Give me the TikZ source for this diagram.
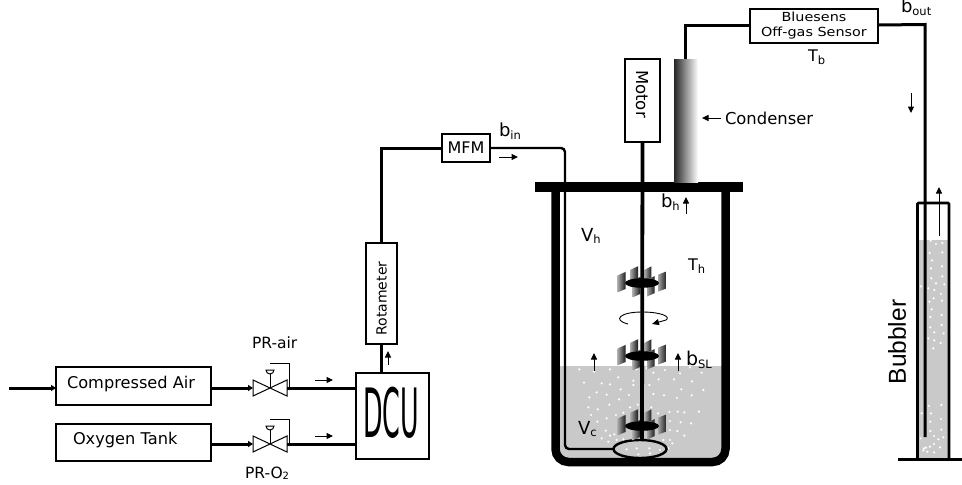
\documentclass[tikz,border=0pt]{standalone}
\usepackage{fontspec}
\setmainfont{DejaVu Sans}
\newfontfamily\arialish{Liberation Sans}
\usetikzlibrary{arrows.meta,shapes.geometric}
\newcommand{\fs}[1]{\fontsize{#1}{#1}\selectfont}
\newcommand{\subt}[1]{\raisebox{-2.5pt}{\fs{11.5}#1}}
\tikzset{
  pipe/.style={line width=3pt},
  thinpipe/.style={line width=2.4pt},
  box/.style={draw=black,line width=2.8pt,fill=white,inner sep=0pt,outer sep=0pt,align=center},
  thinbox/.style={box,line width=1.9pt},
  lbl/.style={inner sep=0pt,outer sep=0pt,anchor=west},
  flow/.style={line width=1pt,-{Triangle[length=6.5pt,width=6pt]}},
  inarrow/.style={pipe,-{Triangle[length=5pt,width=6pt]}},
  dot/.style={fill=white},
}
\newcommand{\prvalve}[3]{%
  \coordinate (#1) at (#2,#3);
  \begin{scope}[shift={(#2,#3)}]
    \coordinate (#1w) at (-17,0);
    \coordinate (#1e) at (17,0);
    \draw[line width=1pt,fill=white] (-17,-8) -- (17,8) -- (17,-8) -- (-17,8) -- cycle;
    \draw[line width=1pt] (0,0) -- (0,-18);
    \draw[line width=1pt,fill=white] (-4,-18) arc[start angle=180,end angle=0,radius=4] -- cycle;
    \draw[line width=1pt] (0,-25) -- (19,-25) -- (19,0);
  \end{scope}}
\newcommand{\blade}[3]{% x, y, width rel. centre
  \shade[left color=black!35,right color=black!90] (#1,#2) -- ({#1+#3},{#2-3.4}) -- ({#1+#3},{#2+13.6}) -- (#1,{#2+17}) -- cycle;}
\newcommand{\impeller}[1]{%
  \begin{scope}[shift={(642,#1)}]
    \blade{-11.7}{-13.3}{7.7}
    \blade{2.7}{-13.3}{6.7}
    \blade{-9.3}{-2.7}{7.7}
    \blade{5}{-3.5}{7.7}
    \blade{-24.3}{-7.7}{8}
    \blade{16}{-8.3}{8.7}
  \end{scope}
  \fill[black] (642,#1) ellipse[x radius=17,y radius=4.8];}
\begin{document}
\begin{tikzpicture}[x=1pt,y=-1pt]
\useasboundingbox (0,0) rectangle (962,485);
\fill[white] (0,0) rectangle (962,485);

% left boxes
\node[box,minimum width=155pt,minimum height=38pt] (air) at (133.5,386) {};
\node[box,minimum width=155pt,minimum height=37pt] (oxy) at (133.5,442.5) {};
\node[lbl,font=\fs{16.2}] at (67,384) {Compressed Air};
\node[lbl,font=\fs{16.2}] at (73,440) {Oxygen Tank};
\coordinate (feed) at (9,388);

% valves
\prvalve{va}{270}{388}
\prvalve{vo}{270}{444}

% DCU, rotameter, MFM
\node[box,minimum width=73pt,minimum height=86pt] (dcu) at (392.5,416) {};
\node[inner sep=0pt] at (391,413) {\scalebox{1.27}[3.4]{\fs{20}DCU}};
\node[thinbox,minimum width=31pt,minimum height=101pt] (rot) at (381.5,293.5) {};
\node[rotate=90,inner sep=0pt,font=\fs{14}] at (381.5,298.5) {Rotameter};
\node[thinbox,minimum width=48pt,minimum height=28pt,font=\fs{16}] (mfm) at (466,148) {MFM};

\draw[inarrow] (feed) -- (air.west |- feed);
\draw[inarrow] (air.east |- va) -- (vaw);
\draw[inarrow] (oxy.east |- vo) -- (vow);
\draw[pipe] (vae) -- (dcu.west |- vae);
\draw[pipe] (voe) -- (dcu.west |- voe);
\draw[pipe] (dcu.north -| rot) -- (rot.south);
\draw[pipe] (rot.north) -- (381.5,148) -- (mfm.west);

% reactor interior
\fill[black!21] (555.5,366) -- (725.5,366) [rounded corners=13pt] -- (725.5,461.5) -- (555.5,461.5) -- (555.5,366) [sharp corners] -- cycle;
\foreach \x/\y in {73/28,117/35,165/28,190/52,87/68,140/70,165/73,235/62,235/75,197/88,125/97,155/104,103/112,192/118,222/105,283/75,311/58,357/58,411/64,379/88,295/102,327/106,366/114,410/106,445/90,100/142,128/148,163/134,225/142,248/134,289/142,108/165,155/175,183/165,205/158,343/156,368/155,388/157,432/155,309/160,127/185,345/183,377/187,408/190,345/210,367/213,388/227,152/212,178/223,140/235,165/227,160/245,185/240,205/238,345/240,325/240,352/250,340/265,215/268,245/265,283/265,315/270,250/283,285/280,375/40,440/38,295/38,330/30,245/28,405/22,445/20,275/24}
  \fill[dot] ({555+\x/3},{360+\y/3}) circle (1.2);

% sparger and inlet
\coordinate (inlet) at (565,148);
\node[draw,line width=2.4pt,ellipse,inner sep=0pt,minimum width=53pt,minimum height=18pt,outer sep=0pt] (spg) at (640,449) {};
\draw[thinpipe,rounded corners=4pt] (mfm.east) -- (inlet) -- (565,449) -- (spg.west);

% motor and shaft
\node[box,minimum width=35pt,minimum height=83pt] (motor) at (642.5,100.5) {};
\node[rotate=-90,inner sep=0pt,font=\fs{16.5}] at (642,94) {Motor};
\coordinate (shaftend) at (642,440);
\impeller{283}
\impeller{356}
\impeller{426}
\draw[line width=3.8pt] (motor.south) -- (shaftend);

% rotation arrow
\draw[line width=0.9pt,-{Triangle[length=7pt,width=6pt]}] (628,324) .. controls (612,320) and (620,312) .. (642,312) .. controls (662,312) and (671,317) .. (666,320) -- (652,324);

% vessel
\draw[line width=8.5pt,rounded corners=13pt] (555.5,187) -- (555.5,462) -- (725.5,462) -- (725.5,187);
\fill[black] (535,182) rectangle (743,192);

% condenser
\shade[left color=black!85,right color=white] (674,59) rectangle (698,182);
\coordinate (condtop) at (685,59);
\node[thinbox,minimum width=128pt,minimum height=34pt] (sens) at (814,26) {};
\node[inner sep=0pt,font=\fs{12.5}] at (814,17) {\scalebox{1.15}[1]{Bluesens}};
\node[inner sep=0pt,font=\fs{12.5}] at (814,33.5) {\scalebox{1.15}[1]{Off-gas Sensor}};
\draw[pipe] (condtop) -- (685,25) -- (sens.west |- 0,25);

% bubbler
\fill[black!21] (917,240) rectangle (949,459);
\foreach \x/\y in {62/17,78/27,97/24,59/54,97/52,66/76,63/100,96/94,97/124,64/130,78/145,103/148,33/154,55/160,73/165,93/177,58/200,71/190,96/197,65/223,61/246,95/240,61/277,95/270,73/292,101/295,55/310,73/316,92/324}
  \fill[dot] ({910+\x/3},{235+\y/3}) circle (1.2);
\foreach \x/\y in {70/10,35/205,63/205,61/230,93/222,61/258,94/254,72/273,100/277,85/283,32/280,60/305,48/308,72/297,90/307,40/316,52/320,72/322,42/310,57/183,94/180}
  \fill[dot] ({910+\x/3},{345+\y/3}) circle (1.2);
\coordinate (bubin) at (925,437);
\draw[pipe] (sens.east |- 0,25) -- (925,24.5) -- (bubin);
\draw[line width=2.8pt,rounded corners=1pt] (917.5,459) -- (917.5,203) -- (949,203) -- (949,459);
\draw[line width=2.4pt] (898,459.5) -- (962,459.5);
\node[rotate=90,inner sep=0pt,font=\arialish\fs{24.5}] at (897,342) {Bubbler};

% flow arrows
\draw[flow] (315,380) -- (333,380);
\draw[flow] (315,436) -- (333,436);
\draw[flow] (388,365) -- (388,351);
\draw[flow] (499,157) -- (518,157);
\draw[flow] (594,371) -- (594,353);
\draw[flow] (678,371) -- (678,353);
\draw[flow] (686,214) -- (686,197);
\draw[flow] (721,118) -- (702,118);
\draw[flow] (911,93) -- (911,113);
\draw[flow] (939,236) -- (939,187);

% labels
\node[lbl,font=\fs{15.5}] at (252,343) {PR-air};
\node[lbl,font=\fs{15.5}] at (245,473) {PR-O\raisebox{-1.5pt}{\fs{10}2}};
\node[lbl,font=\fs{18}] at (499,131) {b\subt{in}};
\node[lbl,font=\fs{18}] at (661,202) {b\subt{h}};
\node[lbl,font=\fs{18}] at (581,236) {V\subt{h}};
\node[lbl,font=\fs{18}] at (578,429) {V\subt{c}};
\node[lbl,font=\fs{16}] at (688,266) {T\subt{h}};
\node[lbl,font=\fs{19}] at (686,360) {b\subt{SL}};
\node[lbl,font=\fs{16}] at (808,57) {T\subt{b}};
\node[lbl,font=\fs{18}] at (901,7) {b\subt{out}};
\node[lbl,font=\fs{16.4}] at (725,118) {Condenser};
\end{tikzpicture}
\end{document}
